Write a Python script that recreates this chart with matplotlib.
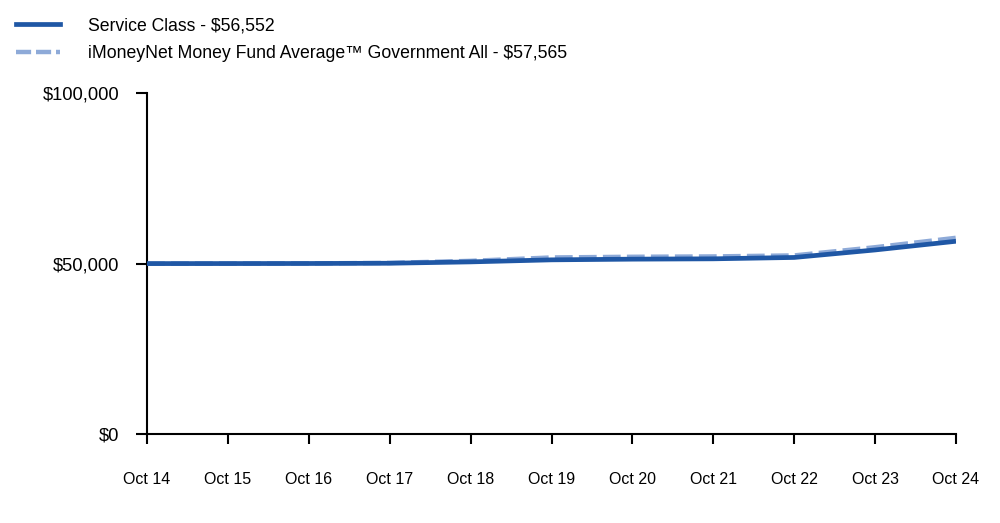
import matplotlib
matplotlib.use("Agg")
import matplotlib.pyplot as plt
from matplotlib.lines import Line2D
from matplotlib.ticker import FuncFormatter

plt.rcParams['font.family'] = ['Liberation Sans', 'DejaVu Sans']

labels = ["Oct 14", "Oct 15", "Oct 16", "Oct 17", "Oct 18", "Oct 19",
          "Oct 20", "Oct 21", "Oct 22", "Oct 23", "Oct 24"]
service = [50000, 50010, 50030, 50100, 50500, 51100, 51300, 51400, 51800, 54000, 56552]
index = [50000, 50020, 50060, 50200, 50800, 51800, 52000, 52100, 52400, 54800, 57565]
series_names = ["Service Class - $56,552",
                "iMoneyNet Money Fund Average\u2122 Government All - $57,565"]

solid_c = "#1f57a5"
dash_c = "#8eaad8"

fig = plt.figure(figsize=(10, 5.23), dpi=100)
ax = fig.add_axes([0.147, 0.170, 0.809, 0.652])
x = list(range(len(labels)))
ax.plot(x, index, color=dash_c, lw=3.2, dashes=(4, 1.4), zorder=2)
ax.plot(x, service, color=solid_c, lw=3.4, zorder=3, solid_capstyle='butt')

ax.set_xlim(0, len(labels) - 1)
ax.set_ylim(0, 100000)
ax.set_yticks([0, 50000, 100000])
ax.yaxis.set_major_formatter(FuncFormatter(lambda v, p: "${:,.0f}".format(v)))
ax.set_xticks(x)
ax.set_xticklabels(labels)
for s in ["top", "right"]:
    ax.spines[s].set_visible(False)
for s in ["left", "bottom"]:
    ax.spines[s].set_color("black")
    ax.spines[s].set_linewidth(1.5)
ax.tick_params(axis='x', direction='out', length=7, width=1.5, pad=20, labelsize=11.5)
ax.tick_params(axis='y', direction='out', length=8, width=1.5, pad=12, labelsize=13.2)

handles = [Line2D([], [], color=solid_c, lw=3.4),
           Line2D([], [], color=dash_c, lw=3.2, dashes=(3.4, 1.1))]
fig.legend(handles, series_names, loc='upper left', bbox_to_anchor=(0.0, 0.997),
           frameon=False, fontsize=12.7, handlelength=2.5, handletextpad=1.6,
           labelspacing=0.6)

fig.savefig("out.png", dpi=100)
